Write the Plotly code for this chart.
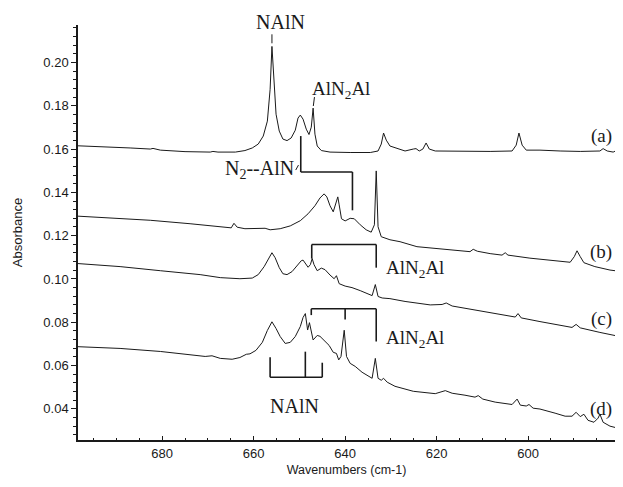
import plotly.graph_objects as go

# ---- data ----
wn_a = [698.4, 693.6, 687.0, 682.6, 682.0, 680.4, 675.0, 669.5, 668.9, 667.8, 664.0, 661.9, 660.3, 659.0,
        657.9, 657.0, 656.4, 656.0, 655.5, 655.1, 654.4, 653.6, 652.7, 651.8, 650.9, 650.3, 649.8, 649.2,
        648.5, 647.9, 647.4, 647.0, 646.6, 646.1, 645.2, 643.3, 638.9, 634.5, 632.8, 632.1, 631.6, 631.0,
        630.2, 628.9, 626.9, 625.1, 624.5, 623.8, 623.0, 622.3, 621.6, 620.3, 614.9, 608.3, 603.5, 602.6,
        602.0, 601.3, 600.4, 597.4, 593.0, 588.6, 584.3, 583.6, 582.7, 581.4, 580.5, 579.5]
abs_a = [0.1615, 0.1612, 0.1605, 0.1600, 0.1603, 0.1595, 0.1588, 0.1586, 0.1589, 0.1586, 0.1586, 0.1593,
         0.1605, 0.1623, 0.1660, 0.1729, 0.1876, 0.2074, 0.1922, 0.1761, 0.1683, 0.1646, 0.1639, 0.1651,
         0.1687, 0.1743, 0.1757, 0.1738, 0.1692, 0.1667, 0.1701, 0.1789, 0.1669, 0.1614, 0.1593, 0.1586,
         0.1584, 0.1584, 0.1591, 0.1623, 0.1674, 0.1641, 0.1614, 0.1605, 0.1591, 0.1600, 0.1602, 0.1591,
         0.1600, 0.1628, 0.1600, 0.1591, 0.1589, 0.1589, 0.1591, 0.1618, 0.1674, 0.1618, 0.1595, 0.1595,
         0.1591, 0.1589, 0.1591, 0.1602, 0.1591, 0.1586, 0.1595, 0.1589]

wn_b = [698.4, 691.4, 682.6, 673.9, 667.3, 664.9, 664.3, 663.6, 661.9, 659.7, 657.5, 656.4, 654.2, 652.0,
        649.8, 648.1, 646.6, 645.5, 644.6, 644.0, 643.3, 642.6, 642.0, 641.6, 641.3, 640.8, 640.0, 638.9,
        638.0, 636.7, 635.4, 634.3, 633.6, 633.2, 632.8, 632.1, 630.2, 628.0, 624.3, 619.2, 614.9, 612.7,
        612.0, 611.1, 608.3, 605.7, 605.0, 604.4, 599.6, 594.1, 590.8, 589.9, 589.3, 588.6, 587.8, 585.4,
        582.1, 579.5]
abs_b = [0.1290, 0.1282, 0.1271, 0.1255, 0.1241, 0.1236, 0.1257, 0.1239, 0.1232, 0.1232, 0.1234, 0.1227,
         0.1232, 0.1245, 0.1269, 0.1301, 0.1338, 0.1374, 0.1393, 0.1379, 0.1338, 0.1310, 0.1351, 0.1379,
         0.1342, 0.1278, 0.1268, 0.1280, 0.1278, 0.1250, 0.1227, 0.1216, 0.1250, 0.1499, 0.1241, 0.1195,
         0.1181, 0.1172, 0.1149, 0.1140, 0.1130, 0.1126, 0.1137, 0.1128, 0.1117, 0.1110, 0.1121, 0.1110,
         0.1096, 0.1084, 0.1077, 0.1103, 0.1130, 0.1103, 0.1075, 0.1057, 0.1041, 0.1034]

wn_c = [698.4, 689.2, 680.4, 671.7, 667.3, 663.0, 660.3, 659.0, 657.7, 656.8, 656.0, 655.3, 654.4, 653.6,
        652.7, 651.6, 650.5, 649.6, 649.2, 648.5, 648.1, 647.6, 647.2, 646.8, 646.1, 645.2, 644.4, 643.3,
        642.4, 641.9, 641.3, 640.0, 638.5, 636.7, 635.0, 634.1, 633.4, 632.8, 631.9, 630.2, 626.9, 621.4,
        618.8, 617.9, 616.6, 612.7, 608.3, 603.9, 602.8, 602.2, 601.5, 597.4, 593.0, 590.4, 589.5, 588.6,
        584.3, 579.5]
abs_c = [0.1071, 0.1057, 0.1038, 0.1020, 0.1006, 0.1001, 0.1004, 0.1020, 0.1057, 0.1094, 0.1121, 0.1098,
         0.1052, 0.1024, 0.1020, 0.1034, 0.1062, 0.1084, 0.1087, 0.1066, 0.1054, 0.1066, 0.1094, 0.1066,
         0.1038, 0.1050, 0.1043, 0.1018, 0.1001, 0.1015, 0.0978, 0.0967, 0.0960, 0.0946, 0.0932, 0.0923,
         0.0974, 0.0919, 0.0912, 0.0909, 0.0896, 0.0880, 0.0882, 0.0889, 0.0875, 0.0861, 0.0845, 0.0827,
         0.0824, 0.0840, 0.0820, 0.0803, 0.0785, 0.0776, 0.0790, 0.0774, 0.0753, 0.0732]

wn_d = [698.4, 689.2, 680.4, 673.9, 670.6, 669.1, 667.3, 664.7, 663.0, 661.6, 660.8, 659.5, 658.1, 657.0,
        656.0, 655.1, 654.2, 653.1, 652.0, 650.9, 649.8, 649.2, 648.7, 648.2, 647.8, 647.0, 646.1, 645.5,
        644.4, 643.5, 642.6, 641.9, 641.4, 640.9, 640.2, 639.7, 638.9, 637.8, 636.3, 635.0, 634.1, 633.4,
        632.8, 632.1, 631.6, 630.8, 629.1, 625.1, 620.3, 618.1, 616.6, 613.8, 611.6, 610.9, 609.9, 607.2,
        603.5, 602.4, 601.7, 600.4, 599.8, 598.9, 597.4, 594.1, 591.9, 590.4, 589.5, 588.6, 587.8, 586.9,
        585.6, 584.7, 584.3, 583.6, 582.1, 580.8, 579.5]
abs_d = [0.0687, 0.0679, 0.0665, 0.0652, 0.0642, 0.0645, 0.0633, 0.0629, 0.0637, 0.0652, 0.0654, 0.0670,
         0.0707, 0.0762, 0.0802, 0.0771, 0.0734, 0.0702, 0.0707, 0.0734, 0.0780, 0.0822, 0.0840, 0.0764,
         0.0798, 0.0718, 0.0739, 0.0735, 0.0711, 0.0693, 0.0661, 0.0656, 0.0626, 0.0642, 0.0763, 0.0642,
         0.0610, 0.0596, 0.0569, 0.0550, 0.0541, 0.0633, 0.0541, 0.0532, 0.0541, 0.0523, 0.0504, 0.0481,
         0.0470, 0.0484, 0.0472, 0.0463, 0.0454, 0.0461, 0.0445, 0.0431, 0.0420, 0.0445, 0.0417, 0.0413,
         0.0420, 0.0403, 0.0399, 0.0380, 0.0366, 0.0366, 0.0384, 0.0364, 0.0375, 0.0347, 0.0338, 0.0357,
         0.0375, 0.0338, 0.0320, 0.0313, 0.0315]

trace_labels = ["(a)", "(b)", "(c)", "(d)"]
label_y = [0.1660, 0.1126, 0.0817, 0.0400]
x_ticks = [680, 660, 640, 620, 600]

SERIF = "Liberation Serif, Times New Roman, serif"
SANS = "Liberation Sans, Arial, sans-serif"
INK = "#1a1a1a"

fig = go.Figure()
for wx, ay in [(wn_a, abs_a), (wn_b, abs_b), (wn_c, abs_c), (wn_d, abs_d)]:
    fig.add_trace(go.Scatter(x=wx, y=ay, mode="lines",
                             line=dict(color=INK, width=1), hoverinfo="skip", showlegend=False))

def seg(x0, y0, x1, y1, dash="solid", w=1.6):
    fig.add_shape(type="line", xref="x", yref="y", x0=x0, y0=y0, x1=x1, y1=y1,
                  line=dict(color=INK, width=w, dash=dash))

# dashed pointers to the peaks in (a)
seg(656.0, 0.2130, 656.0, 0.2085, dash="dash", w=1)
seg(646.7, 0.1840, 647.0, 0.1792, dash="dash", w=1)
# N2--AlN bracket
seg(650.8, 0.1503, 650.2, 0.1526, w=1)
seg(649.7, 0.1660, 649.7, 0.1494)
seg(649.7, 0.1494, 638.4, 0.1494)
seg(638.4, 0.1494, 638.4, 0.1317)
# AlN2Al bracket on (c)
seg(647.3, 0.1159, 633.2, 0.1159)
seg(647.3, 0.1159, 647.3, 0.1094)
seg(633.2, 0.1159, 633.2, 0.1052)
# AlN2Al bracket on (d)
seg(647.4, 0.0862, 633.2, 0.0862)
seg(647.4, 0.0862, 647.4, 0.0833)
seg(640.0, 0.0862, 640.0, 0.0813)
seg(633.2, 0.0862, 633.2, 0.0711)
# NAlN bracket under (d)
seg(656.4, 0.0546, 645.0, 0.0546)
seg(656.4, 0.0546, 656.4, 0.0638)
seg(648.7, 0.0546, 648.7, 0.0664)
seg(645.0, 0.0546, 645.0, 0.0613)

def txt(x, y, s, size=20, yref="y", xanchor="center"):
    fig.add_annotation(x=x, y=y, xref="x", yref=yref, text=s, showarrow=False,
                       xanchor=xanchor, yanchor="middle",
                       font=dict(family=SERIF, size=size, color=INK))

# top label sits above the plotting area -> paper y coordinate
txt(654.2, 1.007, "NAlN", yref="paper")
txt(640.9, 0.1873, "AlN<sub>2</sub>Al", size=19)
txt(658.8, 0.1505, "N<sub>2</sub>--AlN")
txt(624.7, 0.1045, "AlN<sub>2</sub>Al", size=19)
txt(624.7, 0.0722, "AlN<sub>2</sub>Al", size=19)
txt(651.1, 0.0412, "NAlN")
for lab, ly in zip(trace_labels, label_y):
    txt(581.3, ly, lab, size=19, xanchor="right")

# the page body keeps an 8px default margin: size the figure so the page never overflows
fig.update_layout(
    width=607, height=470,
    margin=dict(l=70, r=0, t=17, b=38, autoexpand=False),
    paper_bgcolor="white", plot_bgcolor="white",
    font=dict(family=SANS, size=13, color=INK),
)
fig.update_xaxes(
    range=[698.4, 581.0], tickvals=x_ticks, ticktext=[str(v) for v in x_ticks],
    automargin=False,
    showline=True, linecolor=INK, linewidth=1.5, showgrid=False, zeroline=False,
    ticks="inside", ticklen=4, tickcolor=INK, ticklabelstandoff=1,
    minor=dict(dtick=5, tick0=0, ticks="inside", ticklen=2, tickcolor=INK),
    title=dict(text="Wavenumbers (cm-1)", font=dict(family=SANS, size=12.5), standoff=5),
)
fig.update_yaxes(
    range=[0.0256, 0.2173], dtick=0.02, tick0=0, tickformat=".2f",
    automargin=False,
    showline=True, linecolor=INK, linewidth=1.5, showgrid=False, zeroline=False,
    ticks="outside", ticklen=5, tickcolor=INK,
    minor=dict(dtick=0.004, tick0=0, ticks="outside", ticklen=3, tickcolor=INK),
    title=dict(text="Absorbance", font=dict(family=SANS, size=13), standoff=18),
)

fig.write_html("out.html")
